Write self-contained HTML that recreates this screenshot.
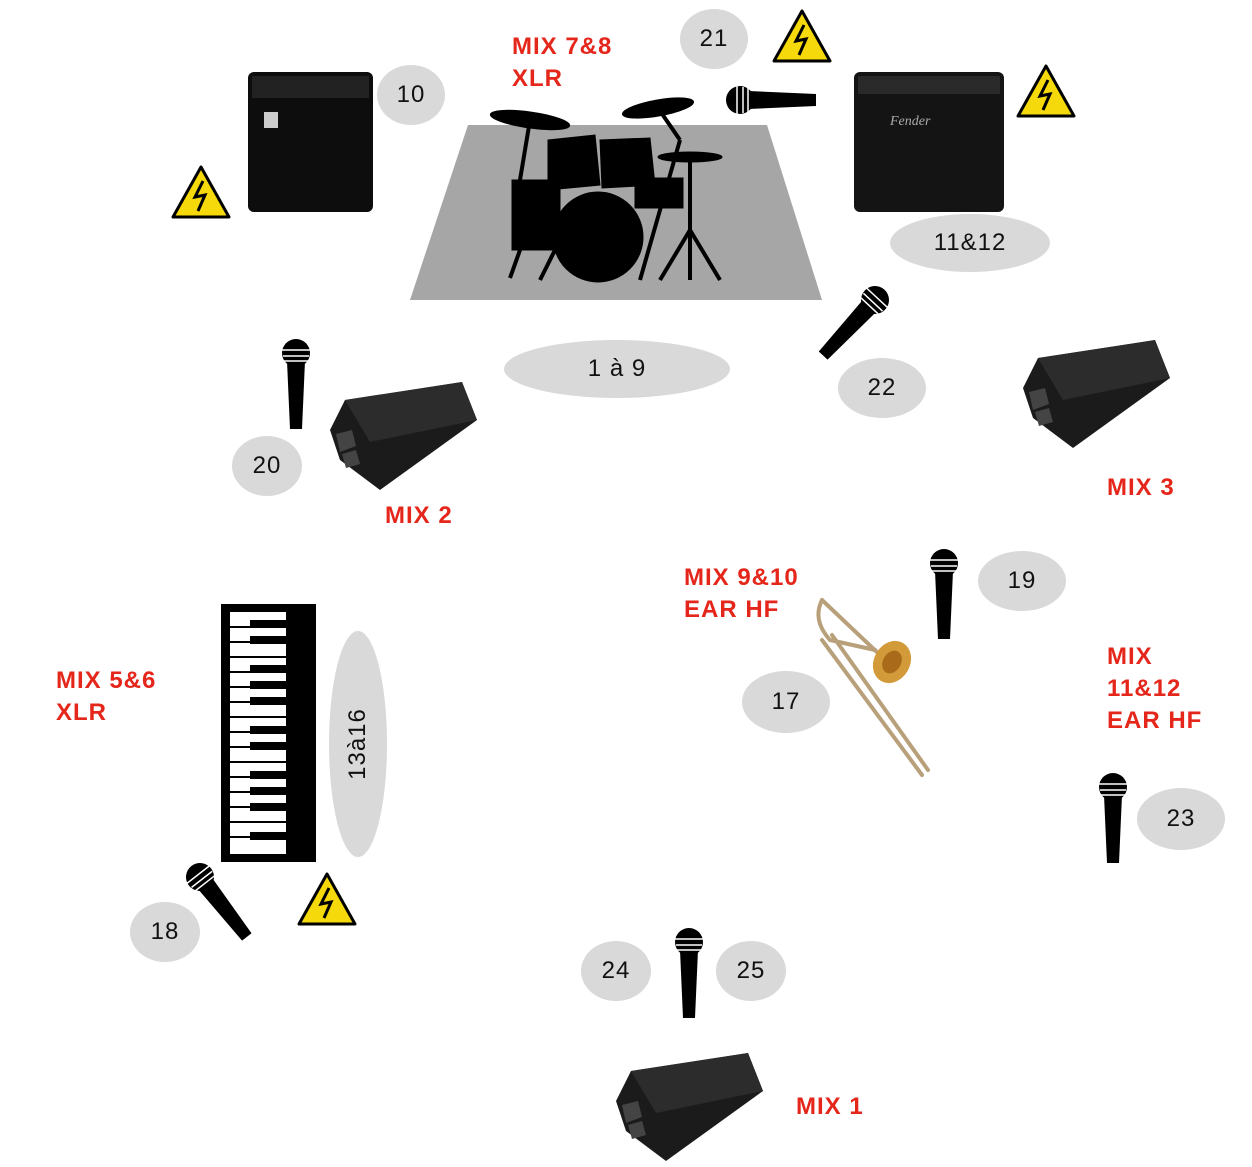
<!DOCTYPE html>
<html><head><meta charset="utf-8"><style>
html,body{margin:0;padding:0;background:#fff;}
body{width:1252px;height:1167px;position:relative;overflow:hidden;font-family:"Liberation Sans",Arial,sans-serif;}
.e{position:absolute;background:#d9d9d9;border-radius:50%;display:flex;align-items:center;justify-content:center;font-size:24px;letter-spacing:1px;color:#111;}
.r{position:absolute;color:#e5261b;font-weight:bold;font-size:24px;letter-spacing:1px;line-height:32px;white-space:nowrap;}
svg{position:absolute;left:0;top:0;}
</style></head><body>
<svg width="1252" height="1167" viewBox="0 0 1252 1167">
<defs>
<g id="mic">
<polygon points="-9,8 9,8 6,76 -6,76" fill="#000"/>
<circle cx="0" cy="0" r="14" fill="#000"/>
<line x1="-14" y1="-3" x2="14" y2="-3" stroke="#fff" stroke-width="1.5"/>
<line x1="-13" y1="3" x2="13" y2="3" stroke="#fff" stroke-width="1.5"/>
<line x1="-12" y1="8" x2="12" y2="8" stroke="#fff" stroke-width="1.5"/>
</g>
<g id="warn">
<polygon points="30,2 58,52 2,52" fill="#f5d90a" stroke="#000" stroke-width="3" stroke-linejoin="round"/>
<polyline points="32,16 24,32 34,30 27,46" fill="none" stroke="#000" stroke-width="3"/>
</g>
<g id="mon">
<polygon points="0,48 15,18 132,0 147,38 50,108 10,78" fill="#1b1b1b"/>
<polygon points="15,18 132,0 147,38 40,60" fill="#2c2c2c"/>
<polygon points="6,52 22,48 26,64 10,70" fill="#444"/>
<polygon points="12,72 26,68 30,82 16,86" fill="#444"/>
</g>
</defs>
<polygon points="468,125 767,125 822,300 410,300" fill="#a6a6a6"/>
<g fill="#000" stroke="#000">
<ellipse cx="530" cy="120" rx="40" ry="8" transform="rotate(8 530 120)"/>
<line x1="530" y1="120" x2="520" y2="180" stroke-width="4"/>
<ellipse cx="658" cy="108" rx="36" ry="8" transform="rotate(-10 658 108)"/>
<line x1="658" y1="108" x2="680" y2="140" stroke-width="4"/>
<ellipse cx="690" cy="157" rx="32" ry="5"/>
<line x1="690" y1="157" x2="690" y2="230" stroke-width="4"/>
<line x1="690" y1="230" x2="660" y2="280" stroke-width="4"/>
<line x1="690" y1="230" x2="720" y2="280" stroke-width="4"/>
<line x1="690" y1="230" x2="690" y2="280" stroke-width="4"/>
<line x1="680" y1="140" x2="640" y2="280" stroke-width="4"/>
<path d="M548,140 L595,135 L600,185 L548,190 Z"/>
<path d="M600,140 L650,138 L655,185 L602,188 Z"/>
<rect x="512" y="180" width="48" height="70"/>
<rect x="635" y="178" width="48" height="30"/>
<circle cx="598" cy="237" r="45"/>
<line x1="520" y1="250" x2="510" y2="278" stroke-width="4"/>
<line x1="555" y1="250" x2="540" y2="280" stroke-width="4"/>
</g>
<rect x="248" y="72" width="125" height="140" rx="6" fill="#0d0d0d"/>
<rect x="252" y="76" width="117" height="22" fill="#222"/>
<rect x="264" y="112" width="14" height="16" fill="#ccc"/>
<rect x="854" y="72" width="150" height="140" rx="6" fill="#141414"/>
<rect x="858" y="76" width="142" height="18" fill="#2a2a2a"/>
<text x="890" y="125" fill="#aaa" font-size="14" font-style="italic" font-family="Liberation Serif">Fender</text>
<use href="#warn" x="171" y="165"/>
<use href="#warn" x="772" y="9"/>
<use href="#warn" x="1016" y="64"/>
<use href="#warn" x="297" y="872"/>
<use href="#mon" x="330" y="382"/>
<use href="#mon" x="1023" y="340"/>
<use href="#mon" x="616" y="1053"/>
<use href="#mic" transform="translate(296,353)"/>
<use href="#mic" transform="translate(944,563)"/>
<use href="#mic" transform="translate(1113,787)"/>
<use href="#mic" transform="translate(689,942)"/>
<use href="#mic" transform="translate(740,100) rotate(-90)"/>
<use href="#mic" transform="translate(875,300) rotate(43)"/>
<use href="#mic" transform="translate(200,877) rotate(-38)"/>
<rect x="221" y="604" width="95" height="258" fill="#000"/>
<rect x="230" y="612" width="56" height="242" fill="#fff"/>
<g stroke="#000" stroke-width="2">
<line x1="230" y1="627" x2="286" y2="627"/><line x1="230" y1="642" x2="286" y2="642"/><line x1="230" y1="657" x2="286" y2="657"/><line x1="230" y1="672" x2="286" y2="672"/><line x1="230" y1="687" x2="286" y2="687"/><line x1="230" y1="702" x2="286" y2="702"/><line x1="230" y1="717" x2="286" y2="717"/><line x1="230" y1="732" x2="286" y2="732"/><line x1="230" y1="747" x2="286" y2="747"/><line x1="230" y1="762" x2="286" y2="762"/><line x1="230" y1="777" x2="286" y2="777"/><line x1="230" y1="792" x2="286" y2="792"/><line x1="230" y1="807" x2="286" y2="807"/><line x1="230" y1="822" x2="286" y2="822"/><line x1="230" y1="837" x2="286" y2="837"/>
</g>
<g fill="#000">
<rect x="250" y="620" width="36" height="8"/><rect x="250" y="636" width="36" height="8"/><rect x="250" y="665" width="36" height="8"/><rect x="250" y="681" width="36" height="8"/><rect x="250" y="697" width="36" height="8"/><rect x="250" y="726" width="36" height="8"/><rect x="250" y="742" width="36" height="8"/><rect x="250" y="771" width="36" height="8"/><rect x="250" y="787" width="36" height="8"/><rect x="250" y="803" width="36" height="8"/><rect x="250" y="832" width="36" height="8"/>
</g>
<g fill="none" stroke="#b8a07a" stroke-width="4" stroke-linecap="round">
<line x1="822" y1="640" x2="922" y2="775"/>
<line x1="832" y1="635" x2="928" y2="770"/>
<path d="M822,600 Q812,620 830,640 L875,650"/>
<line x1="822" y1="600" x2="880" y2="655"/>
</g>
<ellipse cx="892" cy="662" rx="18" ry="22" fill="#d39a3a" transform="rotate(30 892 662)"/>
<ellipse cx="892" cy="662" rx="9" ry="12" fill="#a96a1a" transform="rotate(30 892 662)"/>
</svg>

<div class="e" style="left:377px;top:65px;width:68px;height:60px;">10</div>
<div class="e" style="left:680px;top:9px;width:68px;height:60px;">21</div>
<div class="e" style="left:890px;top:214px;width:160px;height:58px;">11&amp;12</div>
<div class="e" style="left:504px;top:340px;width:226px;height:58px;">1 à 9</div>
<div class="e" style="left:838px;top:358px;width:88px;height:60px;">22</div>
<div class="e" style="left:232px;top:436px;width:70px;height:60px;">20</div>
<div class="e" style="left:978px;top:551px;width:88px;height:60px;">19</div>
<div class="e" style="left:742px;top:671px;width:88px;height:62px;">17</div>
<div class="e" style="left:329px;top:631px;width:58px;height:226px;"><span style="transform:rotate(-90deg);display:inline-block;white-space:nowrap;">13à16</span></div>
<div class="e" style="left:1137px;top:788px;width:88px;height:62px;">23</div>
<div class="e" style="left:130px;top:902px;width:70px;height:60px;">18</div>
<div class="e" style="left:581px;top:941px;width:70px;height:60px;">24</div>
<div class="e" style="left:716px;top:941px;width:70px;height:60px;">25</div>

<div class="r" style="left:512px;top:31px;">MIX 7&amp;8<br>XLR</div>
<div class="r" style="left:385px;top:500px;">MIX 2</div>
<div class="r" style="left:1107px;top:472px;">MIX 3</div>
<div class="r" style="left:684px;top:562px;">MIX 9&amp;10<br>EAR HF</div>
<div class="r" style="left:56px;top:665px;">MIX 5&amp;6<br>XLR</div>
<div class="r" style="left:1107px;top:641px;">MIX<br>11&amp;12<br>EAR HF</div>
<div class="r" style="left:796px;top:1091px;">MIX 1</div>
</body></html>
